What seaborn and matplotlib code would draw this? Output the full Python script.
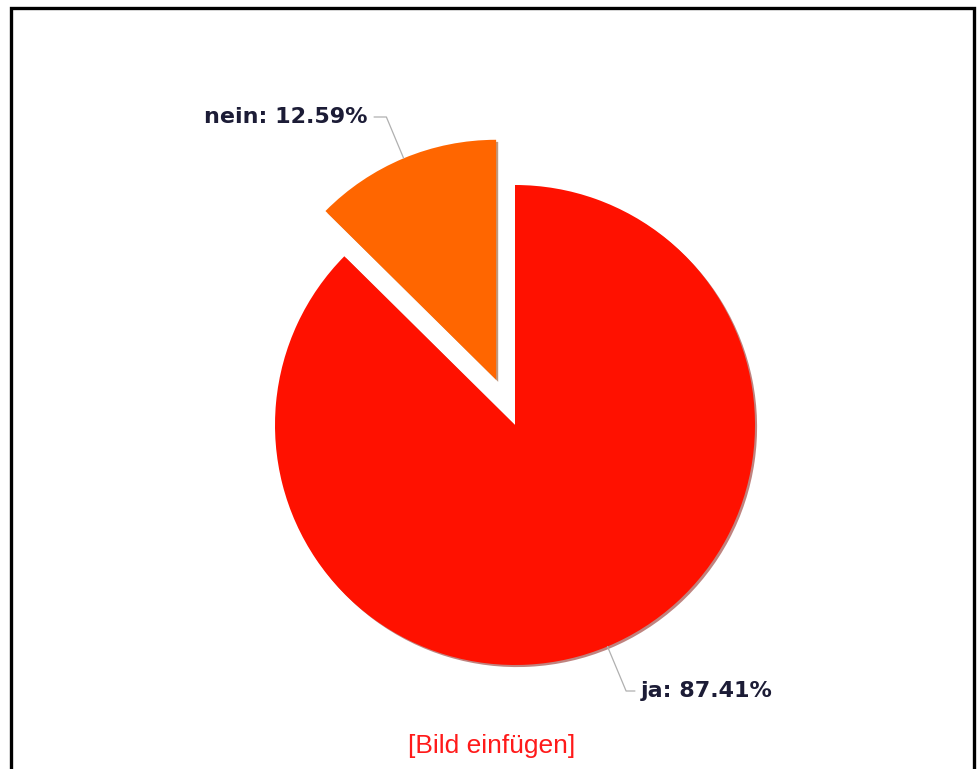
import numpy as np
import seaborn as sns
import matplotlib.pyplot as plt
from matplotlib.patches import Rectangle

# Daten
labels = ["nein", "ja"]
values = [12.59, 87.41]
colors = ["#FF6600", "#FF1100"]

sns.set_style("white")

fig = plt.figure(figsize=(9.78, 7.69), dpi=100)
ax = fig.add_axes([0, 0, 1, 1])

radius = 240
center = (515, 344)
wedges, _ = ax.pie(values, colors=colors, startangle=90, counterclock=True,
                   radius=radius, center=center, explode=[49, 0],
                   shadow={"ox": 1.5, "oy": -1.5, "shade": 0.5},
                   wedgeprops=dict(linewidth=0), frame=True)
ax.set_xlim(0, 978)
ax.set_ylim(0, 769)
ax.set_aspect("equal")
ax.axis("off")

# Beschriftungen mit Führungslinien
text_pos = {"nein": (368, 652), "ja": (641, 78)}
ha = {"nein": "right", "ja": "left"}
for w, lab, val in zip(wedges, labels, values):
    mid = np.deg2rad((w.theta1 + w.theta2) / 2)
    cx, cy = w.center
    xy = (cx + w.r * np.cos(mid), cy + w.r * np.sin(mid))
    ax.annotate(f"{lab}: {val:.2f}%", xy=xy, xytext=text_pos[lab],
                ha=ha[lab], va="center", fontsize=16, fontweight="bold",
                color="#1c1c36",
                arrowprops=dict(arrowstyle="-", color="#b0b0b0", lw=0.9,
                                shrinkA=2, shrinkB=0,
                                connectionstyle=f"angle,angleA=0,angleB={np.rad2deg(mid):.1f},rad=0"))

ax.text(492, 23, "[Bild einfügen]", ha="center", va="center", fontsize=19,
        color="#FF1A1A", family="Liberation Sans")

ax.add_patch(Rectangle((11, -20), 963, 781, fill=False, edgecolor="black",
                       linewidth=2.4, clip_on=False))

plt.savefig("out.png", dpi=100)
